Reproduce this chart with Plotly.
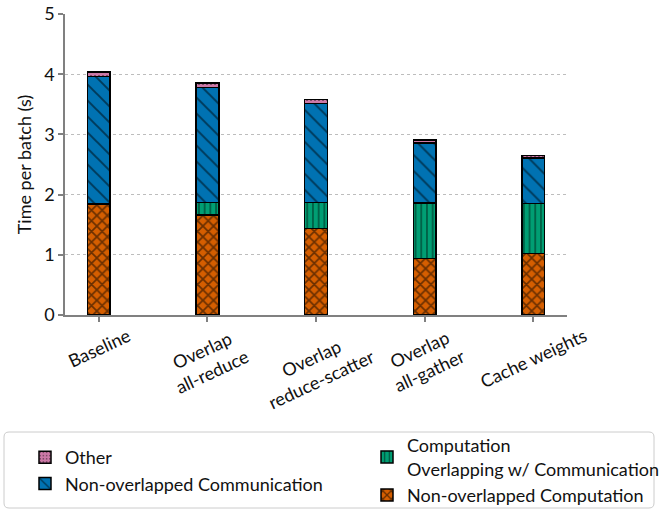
import plotly.graph_objects as go

# ---------------- data ----------------
categories = ["Baseline", "Overlap<br>all-reduce", "Overlap<br>reduce-scatter",
              "Overlap<br>all-gather", "Cache weights"]
non_overlapped_computation = [1.84, 1.66, 1.44, 0.94, 1.02]
computation_overlapping = [0.00, 0.21, 0.43, 0.92, 0.83]
non_overlapped_communication = [2.12, 1.91, 1.64, 1.00, 0.76]
other = [0.08, 0.07, 0.07, 0.05, 0.04]
y_ticks = [0, 1, 2, 3, 4, 5]

# ---------------- layout helpers (pixel geometry) ----------------
FIG_W, FIG_H = 668, 510
PL, PR, PT, PB = 65, 567, 14, 315
PW, PH = PR - PL, PB - PT


def px_x(px):
    return (px - PL) / PW


def px_y(py):
    return (PB - py) / PH


FONT = "Lato"
TXT = "#111111"

fig = go.Figure()

series = [
    ("Non-overlapped Computation", non_overlapped_computation, "#D55E00",
     dict(shape="x", size=7.5, solidity=0.4), "legend2", 4),
    ("Computation<br>Overlapping w/ Communication", computation_overlapping, "#009E73",
     dict(shape="|", size=5.7, solidity=0.25), "legend2", 3),
    ("Non-overlapped Communication", non_overlapped_communication, "#0072B2",
     dict(shape="\\", size=11.3, solidity=0.17), "legend", 2),
    ("Other", other, "#CC79A7",
     dict(shape=".", size=4, solidity=0.2), "legend", 1),
]

for name, vals, color, pat, leg, rank in series:
    fig.add_trace(go.Bar(
        x=categories, y=vals, name=name, width=0.21,
        marker=dict(color=color, line=dict(color="black", width=1.5),
                    pattern=dict(fgcolor="black", fillmode="overlay", **pat)),
        legend=leg, legendrank=rank,
    ))

annotations = []
for cat in categories:
    annotations.append(dict(
        x=cat, xref="x", y=px_y(321), yref="paper",
        xanchor="center", yanchor="top", text=cat, showarrow=False,
        textangle=-25, font=dict(family=FONT, size=18, color=TXT),
    ))

# rounded legend frame
x0, x1 = px_x(4), px_x(654)
y0, y1 = px_y(508), px_y(432)
rx, ry = 5 / PW, 5 / PH
frame = (f"M{x0+rx},{y1} L{x1-rx},{y1} Q{x1},{y1} {x1},{y1-ry} "
         f"L{x1},{y0+ry} Q{x1},{y0} {x1-rx},{y0} L{x0+rx},{y0} "
         f"Q{x0},{y0} {x0},{y0+ry} L{x0},{y1-ry} Q{x0},{y1} {x0+rx},{y1} Z")

legend_common = dict(
    orientation="v", xanchor="left", yanchor="top", bgcolor="rgba(0,0,0,0)",
    borderwidth=0, traceorder="normal", tracegroupgap=0,
    font=dict(family=FONT, size=18, color=TXT),
)

fig.update_layout(
    width=FIG_W, height=FIG_H,
    margin=dict(l=PL, r=FIG_W - PR, t=PT, b=FIG_H - PB, autoexpand=False),
    barmode="stack",
    plot_bgcolor="white", paper_bgcolor="white",
    font=dict(family=FONT, size=18, color=TXT),
    showlegend=True,
    legend=dict(x=px_x(25), y=px_y(439), **legend_common),
    legend2=dict(x=px_x(367), y=px_y(427), **legend_common),
    xaxis=dict(
        range=[-0.31, 4.31], showticklabels=False, showgrid=False,
        showline=True, linecolor="#808080", linewidth=1.5,
        ticks="outside", ticklen=5, tickcolor="#808080", tickwidth=1.5,
        zeroline=False,
    ),
    yaxis=dict(
        range=[0, 5], tickvals=y_ticks, ticktext=[str(v) for v in y_ticks],
        showgrid=True, gridcolor="#bdbdbd", griddash="dot", gridwidth=1,
        showline=True, linecolor="#808080", linewidth=1.5,
        ticks="outside", ticklen=5, tickcolor="#808080", tickwidth=1.5,
        zeroline=False,
        title=dict(text="Time per batch (s)", standoff=8,
                   font=dict(family=FONT, size=18, color=TXT)),
        tickfont=dict(family=FONT, size=18, color=TXT),
    ),
    annotations=annotations,
    shapes=[dict(type="path", path=frame, xref="paper", yref="paper",
                 line=dict(color="#cccccc", width=1), fillcolor="rgba(0,0,0,0)",
                 layer="above")],
)

fig.write_html("out.html",
               config={"displayModeBar": False},
               post_script="document.body.style.margin='0';"
                           "document.body.style.overflow='hidden';")
